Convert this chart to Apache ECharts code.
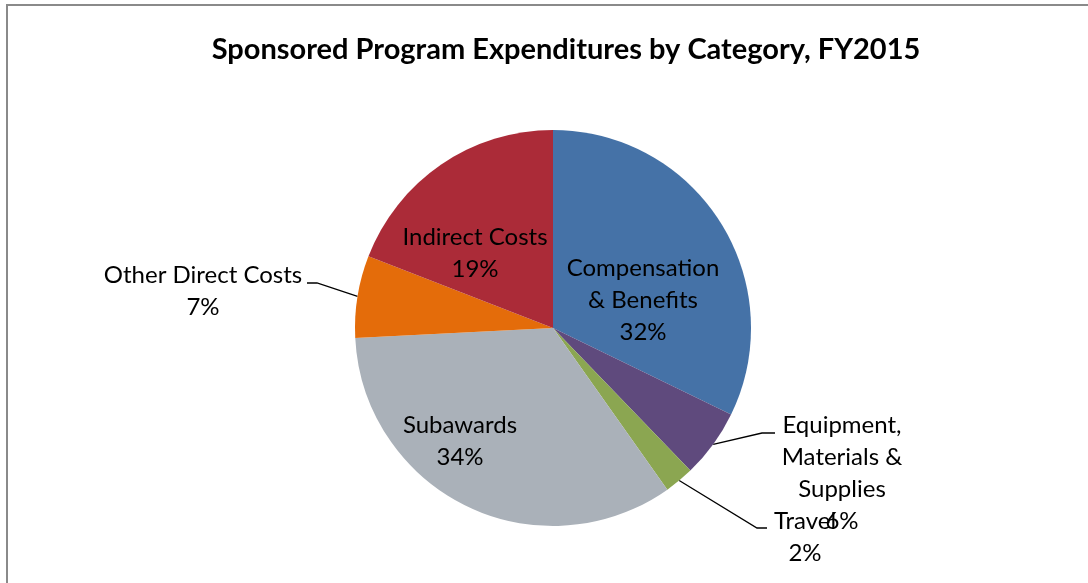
<!DOCTYPE html>
<html style="height: 100%">
<head>
  <meta charset="utf-8">
  <title>Sponsored Program Expenditures by Category, FY2015</title>
  <script src="https://cdn.jsdelivr.net/npm/echarts@6/dist/echarts.min.js"></script>
</head>
<body style="height: 100%; margin: 0; background: #fff">
<div id="container" style="width: 1088px; height: 583px"></div>
<script type="text/javascript">

// chart values (share of total, %)
let categories = ['Compensation & Benefits', 'Equipment, Materials & Supplies', 'Travel',
                  'Subawards', 'Other Direct Costs', 'Indirect Costs'];
let shares = [32.2, 5.6, 2.4, 34.0, 6.7, 19.1];
let colors = ['#4572A7', '#5F4A7D', '#8BA651', '#AAB1B9', '#E46C0A', '#AB2B38'];

// how each label text is broken into lines
let labelText = {
  'Compensation & Benefits': 'Compensation\n& Benefits',
  'Equipment, Materials & Supplies': 'Equipment,\nMaterials &\nSupplies',
  'Travel': 'Travel',
  'Subawards': 'Subawards',
  'Other Direct Costs': 'Other Direct Costs',
  'Indirect Costs': 'Indirect Costs'
};

// pie geometry
let cx = 553, cy = 328, radius = 198;

// label centres relative to the pie centre, and leader line elbow/end
let labelSpot = {
  'Compensation & Benefits': { dx: 90, dy: -28 },
  'Indirect Costs': { dx: -78, dy: -75 },
  'Subawards': { dx: -93, dy: 113 },
  'Other Direct Costs': { dx: -350, dy: -37, line: [[-236, -45], [-246, -45]] },
  'Equipment, Materials & Supplies': { dx: 289, dy: 145, line: [[209, 105], [222, 105]] },
  'Travel': { dx: 252, dy: 209, line: [[204, 200], [214, 200]] }
};

let outside = ['Other Direct Costs', 'Equipment, Materials & Supplies', 'Travel'];

let pieData = categories.map(function (name, i) {
  return {
    name: name,
    value: shares[i],
    itemStyle: { color: colors[i] },
    label: { position: outside.indexOf(name) >= 0 ? 'outside' : 'inside' },
    labelLine: { show: outside.indexOf(name) >= 0 }
  };
});

let dom = document.getElementById('container');
let chart = echarts.init(dom, null, { renderer: 'canvas' });

chart.setOption({
  animation: false,
  backgroundColor: '#ffffff',
  title: {
    text: 'Sponsored Program Expenditures by Category, FY2015',
    left: 561,
    textAlign: 'center',
    top: 30,
    textStyle: {
      fontFamily: 'Lato',
      fontSize: 29,
      fontWeight: 'bold',
      color: '#000000'
    }
  },
  graphic: [{
    type: 'rect',
    silent: true,
    shape: { x: 7, y: 5, width: 1200, height: 700 },
    style: { fill: null, stroke: '#8a8a8a', lineWidth: 2 }
  }],
  series: [{
    type: 'pie',
    center: [cx, cy],
    radius: radius,
    startAngle: 90,
    clockwise: true,
    percentPrecision: 0,
    avoidLabelOverlap: false,
    data: pieData,
    itemStyle: { borderWidth: 0 },
    emphasis: { disabled: true },
    label: {
      formatter: function (p) { return labelText[p.name] + '\n' + p.percent + '%'; },
      fontFamily: 'Lato',
      fontSize: 24,
      lineHeight: 32,
      color: '#000000'
    },
    labelLine: {
      lineStyle: { color: '#000000', width: 1.3 },
      length: 20,
      length2: 10
    },
    labelLayout: function (params) {
      let spot = labelSpot[categories[params.dataIndex]];
      let res = {
        x: cx + spot.dx,
        y: cy + spot.dy,
        align: 'center',
        verticalAlign: 'middle'
      };
      if (spot.line && params.labelLinePoints) {
        let start = params.labelLinePoints[0];
        res.labelLinePoints = [start].concat(spot.line.map(function (p) {
          return [cx + p[0], cy + p[1]];
        }));
      }
      return res;
    }
  }]
});

</script>
</body>
</html>
